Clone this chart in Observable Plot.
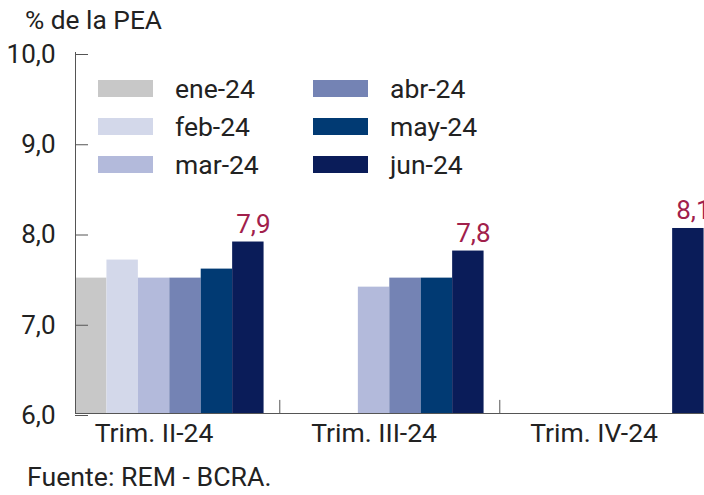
<!DOCTYPE html>
<html>
<head>
<meta charset="utf-8">
<script src="https://cdn.jsdelivr.net/npm/d3@7"></script>
<script src="https://cdn.jsdelivr.net/npm/@observablehq/plot@0.6"></script>
<style>
  html, body { margin: 0; padding: 0; background: #fff; overflow: hidden; }
  #wrap { position: relative; width: 704px; height: 495px; overflow: hidden; font-family: Roboto, sans-serif; color: #222; }
  #title { position: absolute; left: 25px; top: 7px; font-size: 26.3px; line-height: 1; white-space: nowrap; }
  #footer { position: absolute; left: 27px; top: 464px; font-size: 26.7px; line-height: 1; white-space: nowrap; }
  #legend { position: absolute; left: 98px; top: 70px; display: grid; grid-template-columns: 215px 215px; grid-template-rows: repeat(3, 37.7px); grid-auto-flow: column; }
  #legend .item { display: flex; align-items: center; gap: 22px; font-size: 26.5px; }
  #legend .sw { width: 55px; height: 17px; flex: none; }
  #chart svg { overflow: hidden; }
</style>
</head>
<body>
<div id="wrap">
  <div id="chart"></div>
  <div id="title">% de la PEA</div>
  <div id="legend"></div>
  <div id="footer">Fuente: REM - BCRA.</div>
</div>
<script>
// ---- data ----
const trimestres = ["Trim. II-24", "Trim. III-24", "Trim. IV-24"];
const meses = ["ene-24", "feb-24", "mar-24", "abr-24", "may-24", "jun-24"];
const colores = ["#c8c8c8", "#d3d8ea", "#b3badb", "#7483b4", "#013a73", "#0a1c59"];
const trimII = [7.5, 7.7, 7.5, 7.5, 7.6, 7.9];
const trimIII = [null, null, 7.4, 7.5, 7.5, 7.8];
const trimIV = [null, null, null, null, null, 8.05];
const etiquetas = ["7,9", "7,8", "8,1"];
const yTicks = [6, 7, 8, 9, 10];
const yDomain = [6, 10];

// ---- build tables ----
const valores = [trimII, trimIII, trimIV];
const keyOf = (t, m) => `${t}|${m}`;
const xDomain = trimestres.flatMap(t => [...meses.map(m => keyOf(t, m)), keyOf(t, "gap")]);
const rows = trimestres.flatMap((t, i) =>
  meses.map((m, j) => ({key: keyOf(t, m), mes: m, valor: valores[i][j]}))
).filter(d => d.valor != null);
const labelRows = trimestres.map((t, i) => ({key: keyOf(t, "jun-24"), valor: valores[i][5], texto: etiquetas[i]}));
const axisKeys = trimestres.map(t => keyOf(t, "mar-24"));
const gapKeys = trimestres.map(t => keyOf(t, "gap"));
const fmt = d => d3.format(".1f")(d).replace(".", ",");

const plot = Plot.plot({
  width: 704,
  height: 450,
  marginTop: 52,
  marginBottom: 37,
  marginLeft: 75,
  marginRight: -31,
  style: {fontFamily: "Roboto, sans-serif", fontSize: "26px", color: "#222", background: "#fff"},
  x: {type: "band", domain: xDomain, paddingInner: 0, paddingOuter: 0, round: false, axis: null},
  y: {domain: yDomain, axis: null},
  color: {domain: meses, range: colores},
  marks: [
    Plot.barY(rows, {x: "key", y1: yDomain[0], y2: "valor", fill: "mes"}),
    Plot.frame({anchor: "left", stroke: "#555"}),
    Plot.ruleY([yDomain[0]], {stroke: "#555"}),
    Plot.ruleX(gapKeys, {x: d => d, y1: yDomain[0], y2: yDomain[0] + 0.145, stroke: "#555"}),
    Plot.axisY(yTicks, {label: null, tickSize: 13, dx: 13, tickPadding: 20, dy: 2, tickFormat: fmt, stroke: "#555", fill: "#222", fontSize: 26}),
    Plot.axisX(axisKeys, {label: null, tickSize: 0, tickPadding: 10, tickFormat: k => k.split("|")[0], fill: "#222", fontSize: 26.5}),
    Plot.text(labelRows, {x: "key", y: "valor", text: "texto", lineAnchor: "bottom", dy: -9, dx: 5, fill: "#a1204b", fontSize: 26})
  ]
});
document.getElementById("chart").appendChild(plot);

// ---- legend ----
const legend = document.getElementById("legend");
meses.forEach((m, i) => {
  const item = document.createElement("div");
  item.className = "item";
  const sw = document.createElement("div");
  sw.className = "sw";
  sw.style.background = colores[i];
  const lab = document.createElement("span");
  lab.textContent = m;
  item.appendChild(sw);
  item.appendChild(lab);
  legend.appendChild(item);
});
</script>
</body>
</html>
